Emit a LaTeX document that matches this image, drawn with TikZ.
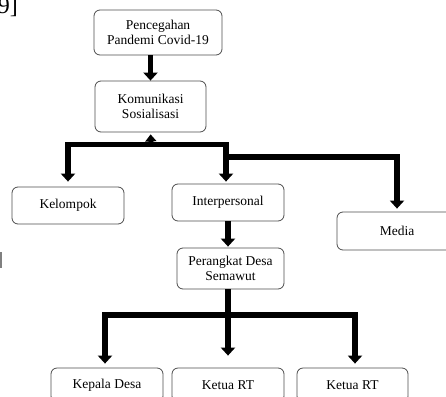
\documentclass[tikz,border=0pt]{standalone}
\usepackage{fontspec}
\setmainfont{Liberation Serif}
\usepackage{tikz}
\usetikzlibrary{arrows.meta}
\usetikzlibrary{positioning}
\usetikzlibrary{calc}
\tikzset{
box/.style 2 args = {draw=black!70, line width=0.8pt, rounded corners=6pt,
              minimum width=#1, minimum height=#2,
              inner sep=0pt, align=center,
              font=\fontsize{13.5}{15}\selectfont},
tree/.style = {line width=5.5pt, -{Triangle[length=8pt,width=14pt]}},
upstub/.style = {line width=5pt, -{Triangle[length=7pt,width=11pt]}}
}
\begin{document}
\begin{tikzpicture}[x=1pt,y=1pt]
    \useasboundingbox (0,0) rectangle (446,-396);
    \clip (0,0) rectangle (446,-396);

    % cut-off bits at the left edge
    \node[anchor=base east, font=\fontsize{24}{24}\selectfont, inner sep=0pt] (ref) at (18,-14) {9]};
    \fill[gray] (0,-252) rectangle (2,-268);

    \node[box={128pt}{45pt}] (pen) at (158,-32.5) {Pencegahan\\Pandemi Covid-19};
    \node[box={111pt}{51pt}] (kom) at (150.5,-106.5) {Komunikasi\\Sosialisasi};
    \node[box={112pt}{37pt}] (kel) at (68,-205.5) {Kelompok};
    \node[box={112pt}{37pt}] (inter) at (228,-202.5) {Interpersonal};
    \node[box={120pt}{38pt}] (media) at (397,-231) {Media};
    \node[box={107pt}{41pt}] (per) at (230.5,-268.5) {Perangkat Desa\\Semawut};
    \node[box={112pt}{34pt}] (kep) at (107,-385) {Kepala Desa};
    \node[box={112pt}{34pt}] (rt1) at (228,-385) {Ketua RT};
    \node[box={111pt}{34pt}] (rt2) at (352.5,-385) {Ketua RT};

    \coordinate (forkA) at (151,-144.5);
    \coordinate (forkB) at (226,-157);
    \coordinate (forkC) at (228,-315);

    \draw[tree] (kom |- pen.south) -- (kom.north);
    \draw[upstub, shorten >=2pt] (forkA) -- (kom.south);
    \draw[tree, shorten >=5pt] (forkA) -| (kel.north);
    \draw[tree, shorten >=2pt] (forkA) -| ([xshift=-2pt]inter.north);
    \draw[tree, shorten >=3pt] (forkB) -| (media.north);
    \draw[tree, shorten >=1pt] (rt1 |- inter.south) -- (rt1 |- per.north);
    \draw[tree, shorten >=12pt] (rt1 |- per.south) -- (rt1.north);
    \draw[tree, shorten >=4pt] (forkC) -| ([xshift=-2pt]kep.north);
    \draw[tree, shorten >=4pt] (forkC) -| ([xshift=2.5pt]rt2.north);
\end{tikzpicture}
\end{document}
